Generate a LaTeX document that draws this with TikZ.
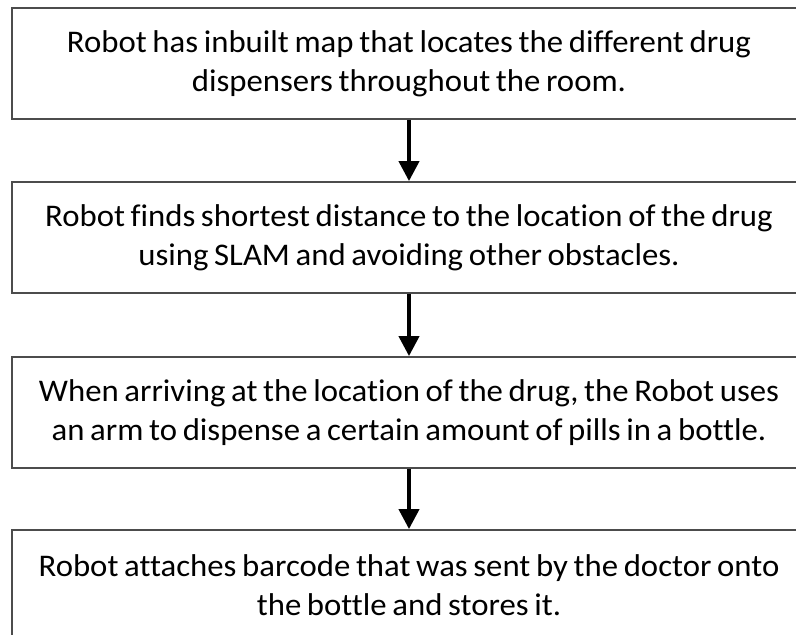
\documentclass[tikz,border=0pt]{standalone}
\usepackage{fontspec}
\setmainfont{Carlito}[Ligatures=NoCommon, FakeStretch=1.04]
\usetikzlibrary{arrows.meta}
\newcommand{\boxfont}{\fontsize{31.5}{39}\selectfont\spaceskip=0.18em\relax}
\begin{document}
\begin{tikzpicture}[x=1pt,y=1pt,
  stepbox/.style={draw=black!70, line width=1.8pt, rectangle, minimum width=794pt, minimum height=111pt, inner sep=0pt, align=center, font=\boxfont},
  flow/.style={line width=4pt, -{Triangle[width=20pt,length=20pt]}}]
\useasboundingbox (0,0) rectangle (796,-635);
\clip (0,0) rectangle (796,-635);
\fill[white] (0,0) rectangle (796,-635);
\node[stepbox] (b1) at (409,-63.5) {Robot has inbuilt map that locates the different drug\\dispensers throughout the room.};
\node[stepbox] (b2) at (409,-237.5) {Robot finds shortest distance to the location of the drug\\using SLAM and avoiding other obstacles.};
\node[stepbox] (b3) at (409,-412.5) {When arriving at the location of the drug, the Robot uses\\an arm to dispense a certain amount of pills in a bottle.};
\node[stepbox] (b4) at (409,-585.5) {Robot attaches barcode that was sent by the doctor onto\\the bottle and stores it.};
\draw[flow] (b1.south) -- (b2.north);
\draw[flow] (b2.south) -- (b3.north);
\draw[flow] (b3.south) -- (b4.north);
\end{tikzpicture}
\end{document}
